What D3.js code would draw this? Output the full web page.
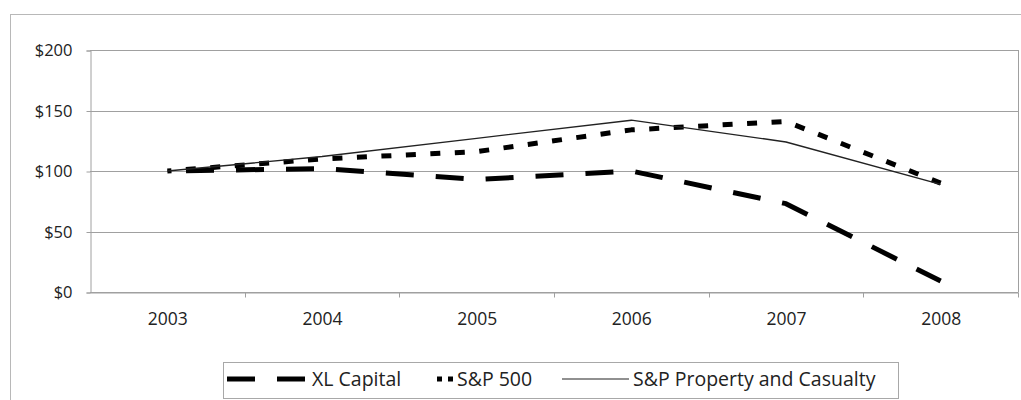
<!DOCTYPE html>
<html><head><meta charset="utf-8">
<script src="https://cdn.jsdelivr.net/npm/d3@7"></script>
<style>body{margin:0;background:#fff;} svg{display:block;font-family:"Open Sans",sans-serif;}</style>
</head><body>
<svg id="c" width="1021" height="400"></svg>
<script>
const categories = ["2003","2004","2005","2006","2007","2008"];
const xlCapital = [100, 102, 93, 100, 73, 9];
const sp500 = [100, 110, 116, 134, 141, 90];
const spPC = [100, 112, 127, 142, 124, 89];
const yTicks = [0, 50, 100, 150, 200];
const seriesNames = ["XL Capital", "S&P 500", "S&P Property and Casualty"];

const svg = d3.select("#c");
const m = {l: 90, r: 1018, t: 50, b: 292};

// outer chart border
svg.append("rect").attr("x", 10.5).attr("y", 14.5).attr("width", 1030).attr("height", 420)
  .attr("fill", "none").attr("stroke", "#b8b8b8").attr("stroke-width", 1);

const x = d3.scaleBand().domain(categories).range([m.l, m.r]);
const y = d3.scaleLinear().domain([0, 200]).range([m.b, m.t]);

// gridlines
svg.append("g").selectAll("line").data(yTicks).join("line")
  .attr("x1", m.l).attr("x2", m.r)
  .attr("y1", d => Math.round(y(d)) + 0.5).attr("y2", d => Math.round(y(d)) + 0.5)
  .attr("stroke", "#a0a0a0").attr("stroke-width", 1);

// right border of plot
svg.append("line").attr("x1", m.r + 0.5).attr("x2", m.r + 0.5).attr("y1", y(200)).attr("y2", y(0))
  .attr("stroke", "#a0a0a0");

// y axis
const yAxis = svg.append("g").attr("transform", `translate(${m.l + 0.5},0.5)`)
  .call(d3.axisLeft(y).tickValues(yTicks).tickSize(4).tickPadding(14).tickFormat(d => "$" + d));
yAxis.select(".domain").attr("stroke", "#a0a0a0");
yAxis.selectAll(".tick line").attr("stroke", "#a0a0a0");
yAxis.selectAll(".tick text").attr("font-size", 16.5).attr("fill", "#222")
  .attr("font-family", "Open Sans, sans-serif");

// x axis
const xAxis = svg.append("g").attr("transform", `translate(0.5,${Math.round(y(0)) + 0.5})`)
  .call(d3.axisBottom(x).tickSize(0).tickPadding(20));
xAxis.select(".domain").attr("stroke", "#a0a0a0");
xAxis.selectAll(".tick text").attr("font-size", 17.5).attr("fill", "#222")
  .attr("font-family", "Open Sans, sans-serif");
// boundary tick marks
const bounds = categories.slice(1).map(c => x(c)).concat([m.r]);
xAxis.append("g").selectAll("line").data(bounds).join("line")
  .attr("x1", d => Math.round(d)).attr("x2", d => Math.round(d)).attr("y1", 0).attr("y2", 5)
  .attr("stroke", "#a0a0a0");

const line = d3.line().x((d, i) => x(categories[i]) + x.bandwidth() / 2).y(d => y(d));

const styles = [
  {data: xlCapital, w: 5, dash: "28,22", period: 50, endAt: 27, color: "#000"},
  {data: sp500, w: 5, dash: "10,14.5", period: 24.5, endAt: 9.5, color: "#000"},
  {data: spPC, w: 1.4, dash: null, color: "#222"}
];
styles.forEach(s => {
  const p = svg.append("path").datum(s.data).attr("d", line).attr("fill", "none")
    .attr("stroke", s.color).attr("stroke-width", s.w)
    .attr("stroke-dasharray", s.dash).attr("stroke-linejoin", "round");
  if (s.dash) {
    const L = p.node().getTotalLength();
    const off = ((s.endAt - L) % s.period + s.period) % s.period;
    p.attr("stroke-dashoffset", off);
  }
});

// legend
const lg = svg.append("g");
lg.append("rect").attr("x", 223.5).attr("y", 362.5).attr("width", 675).attr("height", 36)
  .attr("fill", "#fff").attr("stroke", "#a8a8a8");
const ly = 379;
lg.append("line").attr("x1", 227).attr("x2", 305).attr("y1", ly).attr("y2", ly)
  .attr("stroke", "#000").attr("stroke-width", 5).attr("stroke-dasharray", "28,22");
lg.append("line").attr("x1", 437).attr("x2", 453).attr("y1", ly).attr("y2", ly)
  .attr("stroke", "#000").attr("stroke-width", 5).attr("stroke-dasharray", "5,6");
lg.append("line").attr("x1", 562).attr("x2", 629).attr("y1", ly).attr("y2", ly)
  .attr("stroke", "#222").attr("stroke-width", 1.2);
const lx = [312, 457, 633];
lg.selectAll("text").data(seriesNames).join("text")
  .attr("x", (d, i) => lx[i]).attr("y", ly).attr("dy", "0.35em")
  .attr("font-size", 19.5).attr("fill", "#222").text(d => d);
</script>
</body></html>
